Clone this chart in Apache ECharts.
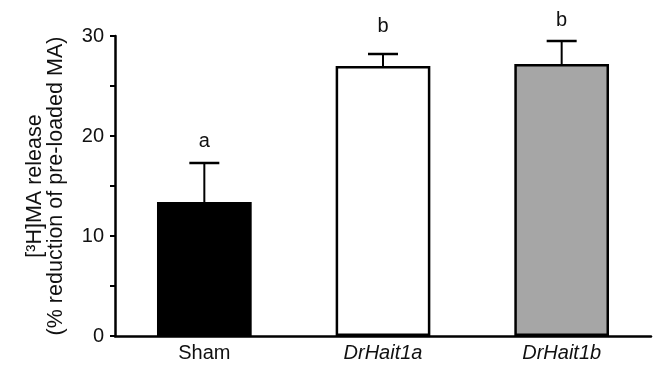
<!DOCTYPE html>
<html>
<head>
<meta charset="utf-8">
<script src="https://cdn.jsdelivr.net/npm/echarts@6/dist/echarts.min.js"></script>
<style>
  html, body { margin: 0; padding: 0; background: #fff; }
  #chart { width: 654px; height: 367px; }
</style>
</head>
<body>
<div id="chart"></div>
<script>
// groups and values
var categories = ['Sham', 'DrHait1a', 'DrHait1b'];
var means = [13.4, 27.0, 27.2];
var upper = [17.3, 28.2, 29.5];      // top of error bar
var letters = ['a', 'b', 'b'];
var letterPos = [19.5, 31.0, 31.6];  // where the letter sits (y value)
var barColors = ['#000000', '#ffffff', '#a6a6a6'];
var yTicks = [0, 10, 20, 30];

var FONT = '"Liberation Sans", Arial, sans-serif';

var myChart = echarts.init(document.getElementById('chart'), null, { renderer: 'canvas' });

var option = {
    animation: false,
    backgroundColor: '#fff',
    grid: { left: 115, right: 3, top: 36, bottom: 31, containLabel: false },
    xAxis: {
        type: 'category',
        data: categories,
        boundaryGap: true,
        axisLine: { lineStyle: { color: '#000', width: 2.5 } },
        axisTick: { show: false },
        axisLabel: {
            margin: 7,
            fontSize: 20,
            fontFamily: FONT,
            color: '#111',
            formatter: function (v) {
                return v === 'Sham' ? '{n|' + v + '}' : '{i|' + v + '}';
            },
            rich: {
                n: { fontSize: 20, fontFamily: FONT, color: '#111' },
                i: { fontSize: 20, fontFamily: FONT, color: '#111', fontStyle: 'italic' }
            }
        }
    },
    yAxis: {
        type: 'value',
        min: yTicks[0],
        max: yTicks[yTicks.length - 1],
        interval: 10,
        name: '[³H]MA release\n(% reduction of pre-loaded MA)',
        nameLocation: 'middle',
        nameRotate: 90,
        nameGap: 48,
        nameTextStyle: { fontSize: 21.5, fontFamily: FONT, color: '#111', lineHeight: 21 },
        axisLine: { show: true, lineStyle: { color: '#000', width: 2.5 } },
        axisTick: { show: true, inside: false, length: 5, lineStyle: { color: '#000', width: 2 } },
        minorTick: { show: true, splitNumber: 2, length: 5, lineStyle: { color: '#000', width: 2 } },
        splitLine: { show: false },
        axisLabel: { margin: 11, fontSize: 20, fontFamily: FONT, color: '#111' }
    },
    series: [
        {
            name: 'mean',
            type: 'bar',
            barWidth: '53%',
            data: means.map(function (v, i) {
                return {
                    value: v,
                    itemStyle: { color: barColors[i], borderColor: '#000', borderWidth: 2.5 }
                };
            }),
            z: 2
        },
        {
            name: 'error',
            type: 'custom',
            data: means.map(function (v, i) { return [i, v, upper[i]]; }),
            renderItem: function (params, api) {
                var base = api.coord([api.value(0), api.value(1)]);
                var top = api.coord([api.value(0), api.value(2)]);
                var half = 15;
                return {
                    type: 'group',
                    children: [
                        { type: 'line', shape: { x1: base[0], y1: base[1], x2: top[0], y2: top[1] },
                          style: { stroke: '#000', lineWidth: 2 } },
                        { type: 'line', shape: { x1: top[0] - half, y1: top[1], x2: top[0] + half, y2: top[1] },
                          style: { stroke: '#000', lineWidth: 2.5 } }
                    ]
                };
            },
            z: 3
        },
        {
            name: 'letters',
            type: 'custom',
            data: letterPos.map(function (v, i) { return [i, v]; }),
            renderItem: function (params, api) {
                var p = api.coord([api.value(0), api.value(1)]);
                return {
                    type: 'text',
                    style: {
                        x: p[0], y: p[1],
                        text: letters[params.dataIndex],
                        align: 'center', verticalAlign: 'middle',
                        fontSize: 20, fontFamily: FONT, fill: '#111'
                    }
                };
            },
            z: 4
        }
    ]
};

myChart.setOption(option);
</script>
</body>
</html>
